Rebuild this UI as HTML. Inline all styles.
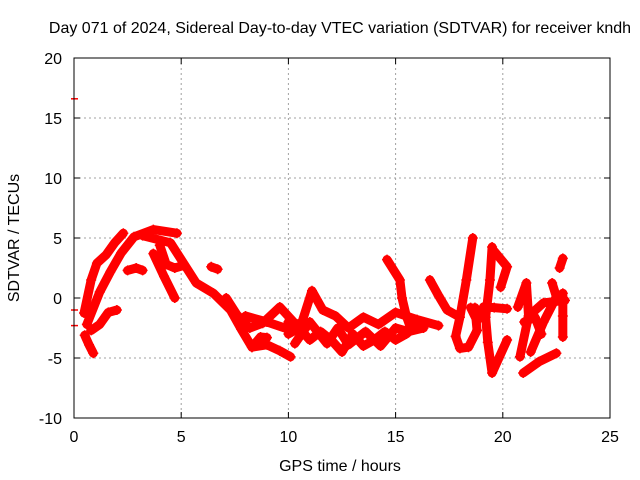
<!DOCTYPE html>
<html><head><meta charset="utf-8"><style>
html,body{margin:0;padding:0;background:#fff;}
svg{display:block;font-family:"Liberation Sans",sans-serif;}
</style></head><body>
<svg id="chart" width="640" height="480" viewBox="0 0 640 480">
<text x="340" y="33" text-anchor="middle" font-size="16">Day 071 of 2024, Sidereal Day-to-day VTEC variation (SDTVAR) for receiver kndh</text>
<text x="340" y="471" text-anchor="middle" font-size="16">GPS time / hours</text>
<text transform="translate(19,238) rotate(-90)" text-anchor="middle" font-size="16">SDTVAR / TECUs</text>
<g id="grid"></g><g id="ticks"></g><g id="marks"></g>
<rect x="74" y="58" width="536" height="360" fill="none" stroke="#000" stroke-width="1"/>
</svg>
<script>
const xTicks=[0,5,10,15,20,25];
const yTicks=[-10,-5,0,5,10,15,20];
const trackA=[[0.5,-3.1],[0.7,-3.9],[0.9,-4.6]];
const trackB=[[0.47,-1.25],[0.8,1.5],[1.07,2.9],[1.5,3.6],[1.9,4.6],[2.3,5.4]];
const trackC=[[0.8,-2.7],[1.2,-2.2],[1.6,-1.2],[2.0,-1.0]];
const trackC2=[[0.6,-2.2],[1.2,0.5],[1.7,2.2],[2.2,3.75],[2.8,5.1],[3.7,5.7],[4.8,5.4]];
const trackD=[[2.5,2.3],[2.9,2.5],[3.2,2.3]];
const trackE=[[3.7,3.7],[4.2,1.8],[4.7,0]];
const trackF=[[4.0,4.4],[4.3,2.8],[4.7,2.5],[5.1,2.7]];
const trackG=[[3.2,5.2],[4.5,4.6],[5.7,1.25],[6.5,0.4],[7.3,-1],[7.8,-2.6],[8.3,-4.1],[8.7,-3.25],[9.0,-3.3]];
const trackG2=[[8.3,-4.1],[9.0,-3.9],[9.6,-4.4],[10.1,-4.9]];
const trackH=[[7.1,0],[7.6,-1.4],[8.2,-2.5],[8.8,-2.1],[9.6,-0.75],[10.5,-2.5]];
const trackH2=[[8.0,-1.5],[9.0,-2.0],[10.0,-2.6]];
const blob=[[6.4,2.6],[6.7,2.4]];
const band1=[[10,-2.0],[10.6,-2.2],[11.1,0.6],[11.6,-1],[12.2,-1.5],[12.8,-2.5],[13.5,-1.6],[14.2,-2.2],[15,-1.2],[15.5,-1.5],[16,-1.8],[17,-2.3]];
const band2=[[10,-3],[10.5,-2.5],[11,-3.5],[11.5,-2.8],[12,-3.5],[12.5,-4.5],[13,-3],[13.5,-4],[14,-3.5],[14.5,-2.8],[15,-3.5],[15.5,-3],[16,-2.2]];
const band3=[[10.3,-3.8],[11,-2],[11.8,-3.8],[12.3,-2.5],[12.8,-3.9],[13.6,-2.8],[14.3,-4],[15,-2.5],[15.6,-2.8],[16.3,-2.5]];
const spike1=[[14.6,3.2],[15.2,1.5],[15.3,0],[15.5,-1.5],[15.7,-2.5]];
const spike2=[[16.6,1.5],[17.0,0.2],[17.4,-1],[17.9,-1.5]];
const spike3=[[18.6,5],[18.3,1.5],[18.0,-1.6],[17.8,-3.2],[18.0,-4.2],[18.4,-4.1],[18.8,-2.7],[18.7,-0.8]];
const loop1=[[18.5,-0.8],[18.8,-1.9],[19.1,-0.75],[19.6,-0.8],[20.2,-0.9]];
const spike4=[[19.5,4.25],[19.4,1.5],[19.2,-1.6],[19.3,-3.7],[19.5,-6.25],[20.2,-3.5]];
const spike4b=[[19.6,3.9],[20.2,2.6],[19.9,0.9]];
const right1=[[20.7,-0.75],[21.1,1.25],[21.2,-1.5],[20.8,-4.9]];
const right2=[[20.95,-6.25],[21.7,-5.3],[22.5,-4.6]];
const right3=[[21.3,-4.5],[21.9,-2.0],[22.5,0.1],[22.3,1.25]];
const right4=[[22.8,0.4],[22.8,-1.5],[22.8,-3.25]];
const right5=[[22.8,3.3],[22.65,2.5]];
const right6=[[21.4,-1.2],[21.9,-0.4],[22.9,-0.2]];
const right7=[[21.0,-2.0],[21.5,-1.6],[21.8,-3.0]];
const edgeMarks=[[0,16.6],[0,-1],[0,-2.3]];
const tracks=[trackA,trackB,trackC,trackC2,trackD,trackE,trackF,trackG,trackG2,trackH,trackH2,blob,band1,band2,band3,spike1,spike2,spike3,loop1,spike4,spike4b,right1,right2,right3,right4,right5,right6,right7];

const X0=74,X1=610,Y0=418,Y1=58;
function xs(v){return X0+(v-0)/(25-0)*(X1-X0);}
function ys(v){return Y0-(v+10)/(20+10)*(Y0-Y1);}
const NS='http://www.w3.org/2000/svg';
function mk(tag,attrs,parent){const e=document.createElementNS(NS,tag);for(const k in attrs)e.setAttribute(k,attrs[k]);parent.appendChild(e);return e;}
const grid=document.getElementById('grid'),ticks=document.getElementById('ticks'),marks=document.getElementById('marks');
xTicks.forEach(t=>{
  const x=xs(t);
  if(t>0&&t<25){const g=mk('line',{x1:x,x2:x,y1:Y1,y2:Y0,stroke:'#a0a0a0','stroke-dasharray':'2,3'},grid);
  
  }
  mk('line',{x1:x,x2:x,y1:Y0,y2:Y0-6,stroke:'#000'},ticks);
  mk('line',{x1:x,x2:x,y1:Y1,y2:Y1+6,stroke:'#000'},ticks);
  const l=mk('text',{x:x,y:Y0+24,'text-anchor':'middle','font-size':'16'},ticks);l.textContent=t;
  
  
});
yTicks.forEach(t=>{
  const y=ys(t);
  if(t>-10&&t<20){const g=mk('line',{x1:X0,x2:X1,y1:y,y2:y,stroke:'#a0a0a0','stroke-dasharray':'2,3'},grid);
  
  }
  mk('line',{x1:X0,x2:X0+6,y1:y,y2:y,stroke:'#000'},ticks);
  mk('line',{x1:X1,x2:X1-6,y1:y,y2:y,stroke:'#000'},ticks);
  const l=mk('text',{x:X0-12,y:y+6,'text-anchor':'end','font-size':'16'},ticks);l.textContent=t;
  
  
});
tracks.forEach(tr=>{
  const p=mk('polyline',{points:tr.map(d=>xs(d[0])+','+ys(d[1])).join(' '),fill:'none',stroke:'#ff0000','stroke-width':'9','stroke-linejoin':'round','stroke-linecap':'round'},marks);
  
  
  tr.forEach(d=>{
    const x=xs(d[0]),y=ys(d[1]);
    const m=mk('path',{d:`M${x-5},${y}H${x+5}M${x},${y-5}V${y+5}`,stroke:'#ff0000','stroke-width':'1.5'},marks);
    
    
  });
});
edgeMarks.forEach(d=>{
  const x=xs(d[0]),y=ys(d[1]);
  const m=mk('path',{d:`M${x-3},${y}H${x+4}`,stroke:'#ff0000','stroke-width':'1.5'},marks);
  
  
});
</script>
</body></html>
